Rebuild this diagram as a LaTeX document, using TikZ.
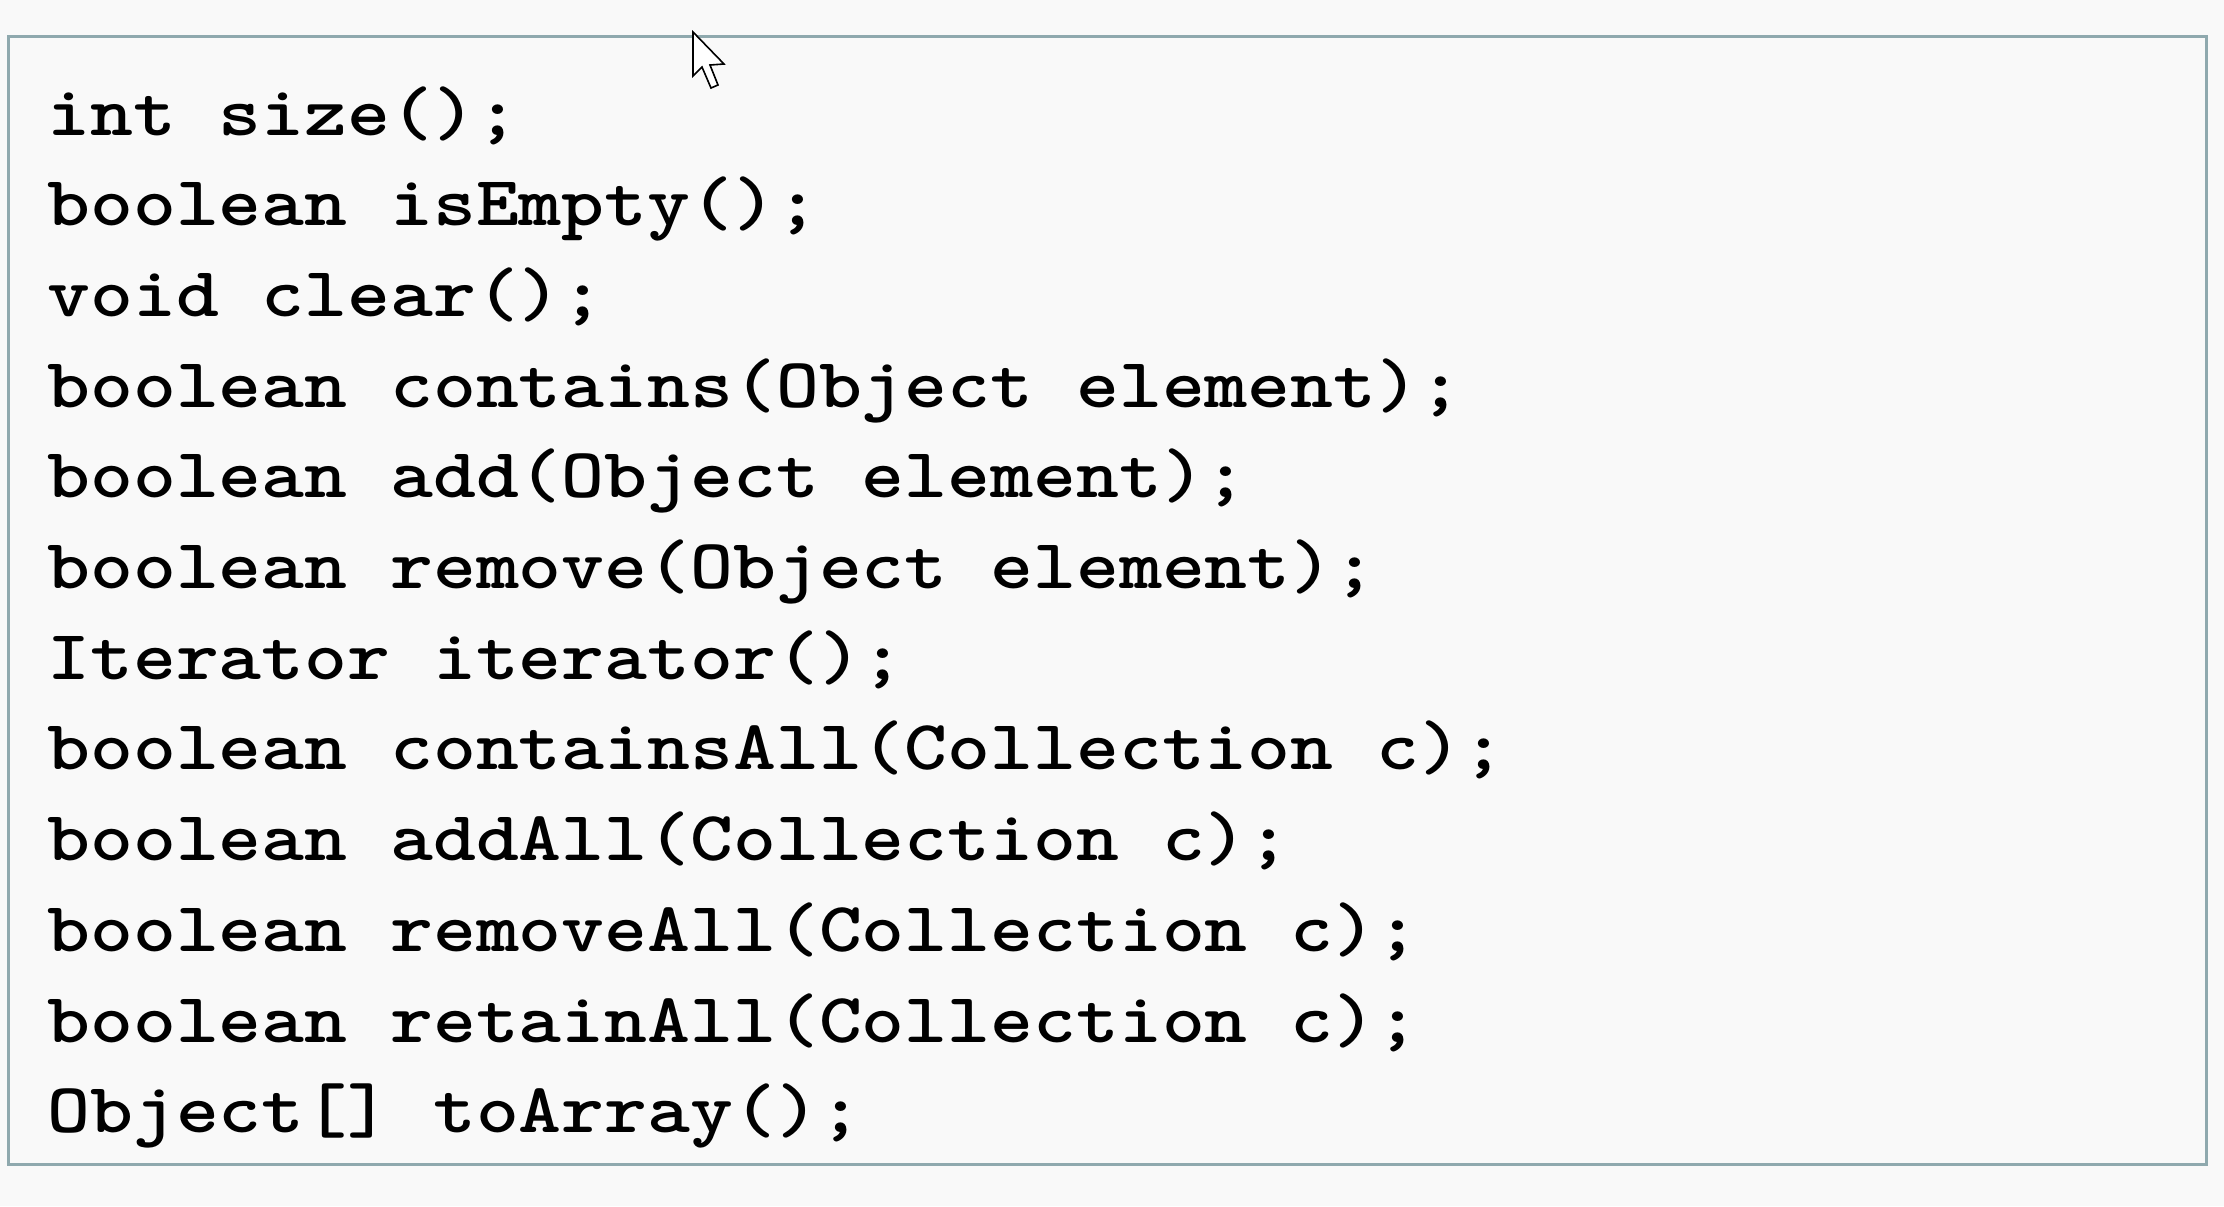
\documentclass[tikz,border=0pt]{standalone}
\usepackage{fontspec}
\newfontfamily\codefont{lmmonolt10-bold.otf}[FakeStretch=1.16]
\definecolor{pagebg}{HTML}{F9F9F9}
\definecolor{frameline}{HTML}{8FA9AE}
\usetikzlibrary{positioning}

\begin{document}
\begin{tikzpicture}[x=0.5pt, y=-0.5pt,
   code/.style={anchor=base west, inner sep=0pt, font=\codefont\fontsize{35.2pt}{42pt}\selectfont},
   frame/.style={draw=frameline, line width=1.3pt, fill=pagebg},
   pointer/.style={draw=black, fill=white, line width=0.8pt, line join=miter}]
   \fill[pagebg] (0,0) rectangle (2224,1206);
   \useasboundingbox (0,0) rectangle (2224,1206);
   \node (box) [frame, inner sep=0pt, minimum width=1099pt, minimum height=564pt, anchor=north west] at (7,35) {};
   \node (l1) at (47,135) [code] {int size();};
   \node (l2) at (47,225.7) [code] {boolean isEmpty();};
   \node (l3) at (47,316.4) [code] {void clear();};
   \node (l4) at (47,407.1) [code] {boolean contains(Object element);};
   \node (l5) at (47,497.8) [code] {boolean add(Object element);};
   \node (l6) at (47,588.5) [code] {boolean remove(Object element);};
   \node (l7) at (47,679.2) [code] {Iterator iterator();};
   \node (l8) at (47,769.9) [code] {boolean containsAll(Collection c);};
   \node (l9) at (47,860.6) [code] {boolean addAll(Collection c);};
   \node (l10) at (47,951.3) [code] {boolean removeAll(Collection c);};
   \node (l11) at (47,1042) [code] {boolean retainAll(Collection c);};
   \node (l12) at (47,1132.7) [code] {Object[] toArray();};
   % mouse pointer
   \draw[pointer] (693,32) -- (693,76) -- (702,67) -- (711,88) -- (718,85) -- (710,65) -- (724,64) -- cycle;
\end{tikzpicture}
\end{document}
